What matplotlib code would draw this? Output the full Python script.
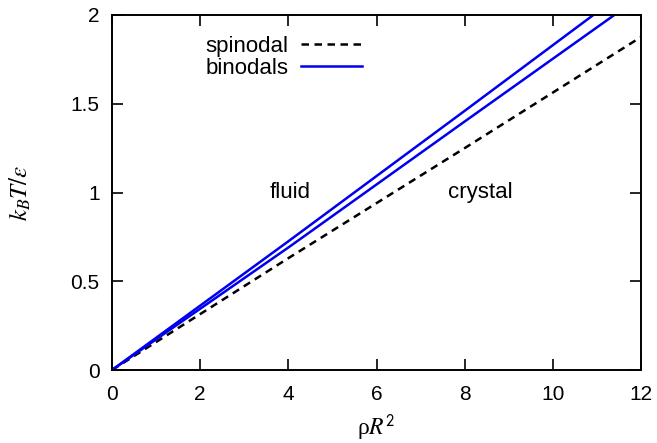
import matplotlib
matplotlib.use("Agg")
import matplotlib.pyplot as plt

# phase diagram data
rho_spin = [0.0, 4.0, 8.0, 12.0]
t_spin = [0.0, 0.63, 1.25, 1.876]

rho_bin = [0.0, 4.0, 8.0, 12.0]
t_bin_fluid = [0.0, 0.725, 1.46, 2.2]
t_bin_crystal = [0.0, 0.69, 1.40, 2.107]

xticks = [0, 2, 4, 6, 8, 10, 12]
yticks = [0, 0.5, 1, 1.5, 2]
yticklabels = ["0", "0.5", "1", "1.5", "2"]

plt.rcParams["font.family"] = ["Liberation Sans", "DejaVu Sans"]
plt.rcParams["mathtext.fontset"] = "stix"

fig = plt.figure(figsize=(6.57, 4.43), dpi=100)
ax = fig.add_axes([112 / 657, 1 - 370 / 443, (641 - 112) / 657, (370 - 15) / 443])

ax.plot(rho_spin, t_spin, color="black", lw=1.8, ls=(0, (3, 2.2)), label="spinodal")
ax.plot(rho_bin, t_bin_fluid, color="#0000ee", lw=1.8, label="binodals")
ax.plot(rho_bin, t_bin_crystal, color="#0000ee", lw=1.8)

ax.set_xlim(0, 12)
ax.set_ylim(0, 2)
ax.set_xticks(xticks)
ax.set_yticks(yticks)
ax.set_yticklabels(yticklabels)
ax.tick_params(direction="in", length=8, width=1.2, top=True, right=True, labelsize=15)
ax.tick_params(axis="x", pad=11)
ax.tick_params(axis="y", pad=9)
for s in ax.spines.values():
    s.set_linewidth(1.4)

ax.set_xlabel("ρ$R^{\\mathsf{2}}$", fontsize=17, family=["Liberation Serif", "DejaVu Serif"], labelpad=6)
ax.set_ylabel("$k_B T/\\varepsilon$", fontsize=18, labelpad=27)

ax.text(4.04, 1.0, "fluid", fontsize=16, ha="center", va="center")
ax.text(8.35, 1.0, "crystal", fontsize=16, ha="center", va="center")

ax.legend(loc="upper left", bbox_to_anchor=(0.16, 0.967), frameon=False, markerfirst=False,
          fontsize=16, handlelength=2.75, handletextpad=0.55, labelspacing=0.05, borderaxespad=0)

fig.savefig("out.png", dpi=100)
